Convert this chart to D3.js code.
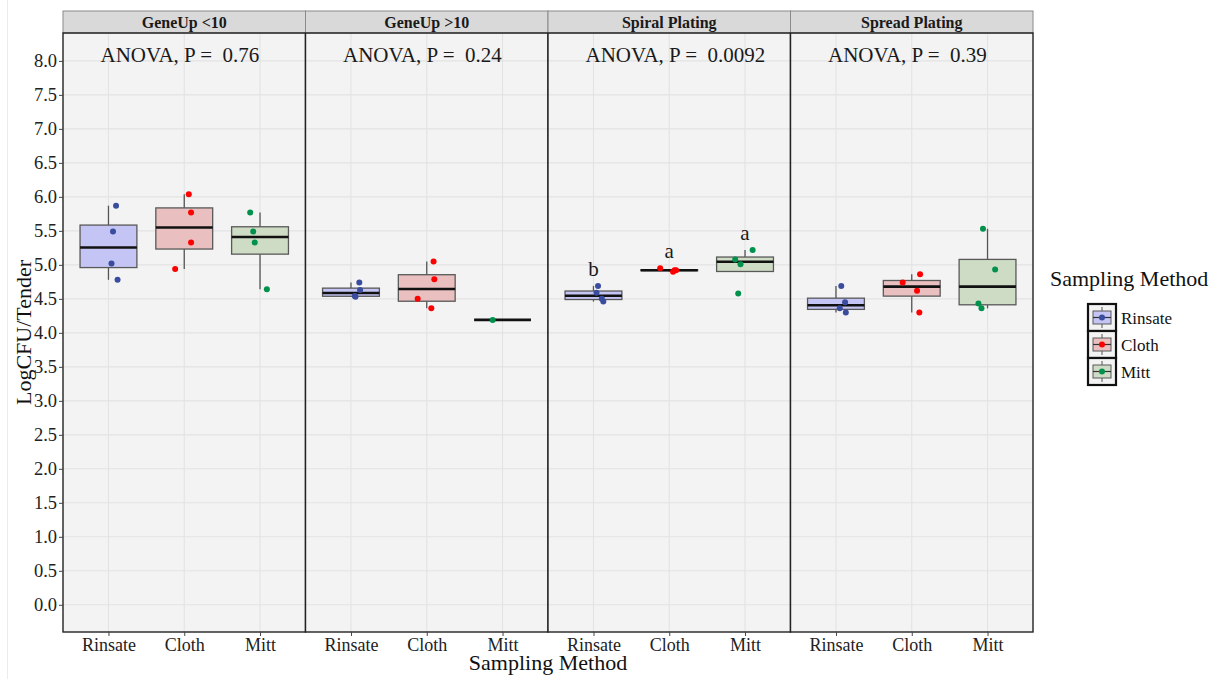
<!DOCTYPE html>
<html>
<head>
<meta charset="utf-8">
<script src="https://cdn.jsdelivr.net/npm/d3@7"></script>
<style>
body { margin: 0; background: #fff; }
svg text { font-family: "Liberation Serif", "Times New Roman", serif !important; }
</style>
</head>
<body>
<svg id="chart" width="1216" height="679"></svg>
<script>
// facets, groups and values
var panels = ["GeneUp <10", "GeneUp >10", "Spiral Plating", "Spread Plating"];
var methods = ["Rinsate", "Cloth", "Mitt"];
var pValues = ["0.76", "0.24", "0.0092", "0.39"];
var yTicks = [0, 0.5, 1, 1.5, 2, 2.5, 3, 3.5, 4, 4.5, 5, 5.5, 6, 6.5, 7, 7.5, 8];

var rinsate = [[5.87, 5.49, 5.02, 4.78], [4.74, 4.63, 4.54, 4.53], [4.69, 4.59, 4.50, 4.46], [4.69, 4.45, 4.36, 4.30]];
var cloth = [[6.04, 5.77, 5.33, 4.94], [5.05, 4.79, 4.50, 4.36], [4.95, 4.92, 4.92, 4.90], [4.86, 4.74, 4.62, 4.30]];
var mitt = [[5.77, 5.49, 5.33, 4.64], [4.19], [5.22, 5.08, 5.01, 4.58], [5.53, 4.93, 4.43, 4.36]];

// horizontal jitter of the points, in category units
var rinsateJitter = [[0.10, 0.06, 0.04, 0.12], [0.11, 0.12, 0.05, 0.06], [0.06, 0.04, 0.11, 0.13], [0.07, 0.12, 0.05, 0.13]];
var clothJitter = [[0.06, 0.09, 0.09, -0.12], [0.09, 0.10, -0.12, 0.06], [-0.12, 0.07, 0.09, 0.05], [0.11, -0.12, 0.07, 0.10]];
var mittJitter = [[-0.13, -0.09, -0.07, 0.09], [-0.13], [0.10, -0.13, -0.06, -0.09], [-0.06, 0.10, -0.12, -0.08]];

// letters over the Spiral Plating groups
var spiralLetters = ["b", "a", "a"];

var values = [rinsate, cloth, mitt];
var jitters = [rinsateJitter, clothJitter, mittJitter];

var fills = {Rinsate: "#c4c4f5", Cloth: "#e9bfbf", Mitt: "#cfdcc5"};
var dots = {Rinsate: "#3a4c9e", Cloth: "#ff0000", Mitt: "#00924d"};

var svg = d3.select("#chart");
var LEFT = 63, TOP = 33, BOTTOM = 632, PW = 242.5, STRIP = 22;

svg.append("rect").attr("width", 1216).attr("height", 679).attr("fill", "#fff");
svg.append("line").attr("x1", 7.5).attr("x2", 7.5).attr("y1", 0).attr("y2", 679)
    .attr("stroke", "#ececec");

var y = d3.scaleLinear().domain([-0.4, 8.41]).range([BOTTOM, TOP]);

function boxStats(v) {
    var s = v.slice().sort(d3.ascending);
    var q1 = d3.quantile(s, 0.25), med = d3.quantile(s, 0.5), q3 = d3.quantile(s, 0.75);
    var iqr = q3 - q1;
    var lo = d3.min(s.filter(function (d) { return d >= q1 - 1.5 * iqr; }));
    var hi = d3.max(s.filter(function (d) { return d <= q3 + 1.5 * iqr; }));
    return {q1: q1, med: med, q3: q3, lo: lo, hi: hi};
}

panels.forEach(function (name, p) {
    var x0 = LEFT + p * PW;
    var g = svg.append("g").attr("transform", "translate(" + x0 + ",0)");
    var x = d3.scalePoint().domain(methods).range([0, PW]).padding(0.6);
    var step = x.step();
    var bw = step * 0.75;

    g.append("rect").attr("x", 0).attr("y", TOP).attr("width", PW).attr("height", BOTTOM - TOP)
        .attr("fill", "#f3f3f3");

    g.selectAll(".hg").data(yTicks).enter().append("line")
        .attr("x1", 0).attr("x2", PW)
        .attr("y1", function (d) { return y(d); }).attr("y2", function (d) { return y(d); })
        .attr("stroke", "#e3e3e3").attr("stroke-width", 1.1);
    g.selectAll(".vg").data(methods).enter().append("line")
        .attr("x1", function (d) { return x(d); }).attr("x2", function (d) { return x(d); })
        .attr("y1", TOP).attr("y2", BOTTOM)
        .attr("stroke", "#e3e3e3").attr("stroke-width", 1.1);

    // strip
    g.append("rect").attr("x", 0).attr("y", TOP - STRIP).attr("width", PW).attr("height", STRIP)
        .attr("fill", "#d9d9d9").attr("stroke", "#8a8a8a").attr("stroke-width", 1);
    g.append("text").attr("x", PW / 2).attr("y", TOP - STRIP / 2 + 5.5)
        .attr("text-anchor", "middle").attr("font-weight", "bold").attr("font-size", 16)
        .attr("fill", "#1a1a1a").text(name);

    // boxes
    methods.forEach(function (m, i) {
        var v = values[i][p];
        var s = boxStats(v);
        var cx = x(m);
        var bg = g.append("g");
        bg.append("line").attr("x1", cx).attr("x2", cx).attr("y1", y(s.hi)).attr("y2", y(s.q3))
            .attr("stroke", "#555").attr("stroke-width", 1.3);
        bg.append("line").attr("x1", cx).attr("x2", cx).attr("y1", y(s.q1)).attr("y2", y(s.lo))
            .attr("stroke", "#555").attr("stroke-width", 1.3);
        bg.append("rect").attr("x", cx - bw / 2).attr("width", bw)
            .attr("y", y(s.q3)).attr("height", Math.max(0, y(s.q1) - y(s.q3)))
            .attr("fill", fills[m]).attr("stroke", "#595959").attr("stroke-width", 1.3);
        bg.append("line").attr("x1", cx - bw / 2).attr("x2", cx + bw / 2)
            .attr("y1", y(s.med)).attr("y2", y(s.med))
            .attr("stroke", "#111").attr("stroke-width", 2.6);

        g.selectAll(".pt" + i).data(v).enter().append("circle")
            .attr("cx", function (d, k) { return cx + jitters[i][p][k] * step; })
            .attr("cy", function (d) { return y(d); })
            .attr("r", 3).attr("fill", dots[m]);

        if (p === 2) {
            g.append("text").attr("x", cx).attr("y", y(d3.max(v)) - 10)
                .attr("text-anchor", "middle").attr("font-size", 21).attr("fill", "#1a1a1a")
                .text(spiralLetters[i]);
        }
    });

    g.append("text").attr("x", x(methods[0]) - 8).attr("y", y(8) + 1)
        .attr("font-size", 21).attr("fill", "#1a1a1a").attr("xml:space", "preserve")
        .style("white-space", "pre")
        .text("ANOVA, P =  " + pValues[p]);

    // panel border
    g.append("rect").attr("x", 0).attr("y", TOP).attr("width", PW).attr("height", BOTTOM - TOP)
        .attr("fill", "none").attr("stroke", "#222").attr("stroke-width", 1.4);

    var xa = g.append("g").attr("transform", "translate(0," + BOTTOM + ")")
        .call(d3.axisBottom(x).tickSize(4).tickPadding(2));
    xa.select(".domain").remove();
    xa.selectAll("line").attr("stroke", "#444");
    xa.selectAll("text").attr("font-size", 18).attr("fill", "#222");
});

var ya = svg.append("g").attr("transform", "translate(" + LEFT + ",0)")
    .call(d3.axisLeft(y).tickValues(yTicks).tickFormat(d3.format(".1f")).tickSize(4).tickPadding(2));
ya.select(".domain").remove();
ya.selectAll("line").attr("stroke", "#444");
ya.selectAll("text").attr("font-size", 18.5).attr("fill", "#222");

svg.append("text").attr("x", (LEFT + LEFT + 4 * PW) / 2).attr("y", 670)
    .attr("text-anchor", "middle").attr("font-size", 22).attr("fill", "#111").text("Sampling Method");
svg.append("text").attr("transform", "translate(31," + ((TOP + BOTTOM) / 2) + ") rotate(-90)")
    .attr("text-anchor", "middle").attr("font-size", 22).attr("fill", "#111").text("LogCFU/Tender");

// legend
var lg = svg.append("g").attr("transform", "translate(1050,0)");
lg.append("text").attr("x", 0).attr("y", 286).attr("font-size", 22).attr("fill", "#111")
    .text("Sampling Method");
methods.forEach(function (m, i) {
    var ky = 304 + i * 27, kx = 38, kw = 28, kh = 27;
    var k = lg.append("g");
    k.append("rect").attr("x", kx).attr("y", ky).attr("width", kw).attr("height", kh)
        .attr("fill", "#f3f3f3").attr("stroke", "#111").attr("stroke-width", 2.2);
    k.append("line").attr("x1", kx + kw / 2).attr("x2", kx + kw / 2).attr("y1", ky + 3).attr("y2", ky + kh - 3)
        .attr("stroke", "#555").attr("stroke-width", 1);
    k.append("rect").attr("x", kx + 5).attr("y", ky + 7).attr("width", kw - 10).attr("height", kh - 14)
        .attr("fill", fills[m]).attr("stroke", "#595959").attr("stroke-width", 1);
    k.append("line").attr("x1", kx + 5).attr("x2", kx + kw - 5).attr("y1", ky + kh / 2).attr("y2", ky + kh / 2)
        .attr("stroke", "#333").attr("stroke-width", 1.2);
    k.append("circle").attr("cx", kx + kw / 2).attr("cy", ky + kh / 2).attr("r", 3).attr("fill", dots[m]);
    lg.append("text").attr("x", 71).attr("y", ky + kh / 2 + 6).attr("font-size", 17).attr("fill", "#111")
        .text(m);
});
</script>
</body>
</html>
